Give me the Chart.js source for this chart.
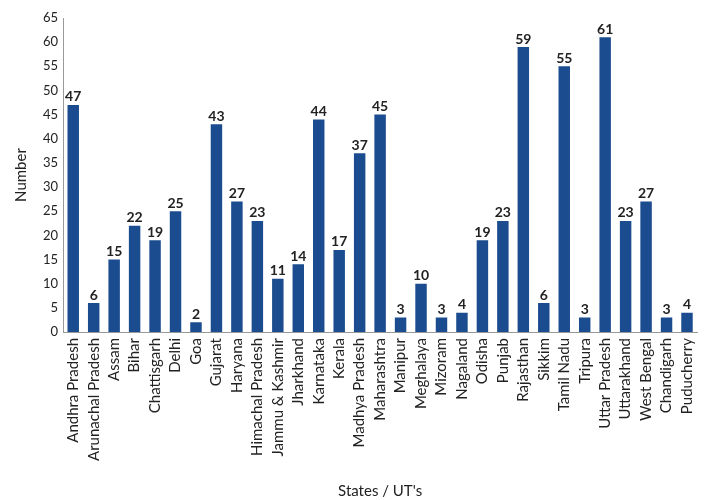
<!DOCTYPE html>
<html>
<head>
<meta charset="utf-8">
<script src="https://cdn.jsdelivr.net/npm/chart.js@4/dist/chart.umd.min.js"></script>
<style>
  html, body { margin: 0; padding: 0; background: #fff; }
  #wrap { width: 711px; height: 500px; }
</style>
</head>
<body>
<div id="wrap"><canvas id="states_chart" width="711" height="500"></canvas></div>
<script>

const states = [
    'Andhra Pradesh', 'Arunachal Pradesh', 'Assam', 'Bihar', 'Chattisgarh', 'Delhi',
    'Goa', 'Gujarat', 'Haryana', 'Himachal Pradesh', 'Jammu & Kashmir', 'Jharkhand',
    'Karnataka', 'Kerala', 'Madhya Pradesh', 'Maharashtra', 'Manipur', 'Meghalaya',
    'Mizoram', 'Nagaland', 'Odisha', 'Punjab', 'Rajasthan', 'Sikkim', 'Tamil Nadu',
    'Tripura', 'Uttar Pradesh', 'Uttarakhand', 'West Bengal', 'Chandigarh', 'Puducherry'
];

const counts = [
    47, 6, 15, 22, 19, 25,
    2, 43, 27, 23, 11, 14,
    44, 17, 37, 45, 3, 10,
    3, 4, 19, 23, 59, 6, 55,
    3, 61, 23, 27, 3, 4
];

const y_max = 65;
const y_step = 5;

const font_family = "Lato, 'Open Sans', sans-serif";

// writes each bar's value just above it
const value_labels = {
    id: 'value_labels',
    afterDatasetsDraw(chart) {
        const ctx = chart.ctx;
        const meta = chart.getDatasetMeta(0);
        ctx.save();
        ctx.fillStyle = '#222';
        ctx.font = 'bold 14px ' + font_family;
        ctx.textAlign = 'center';
        ctx.textBaseline = 'bottom';
        meta.data.forEach(function (bar, i) {
            ctx.fillText(String(counts[i]), bar.x, bar.y - 1);
        });
        ctx.restore();
    }
};

function init_states_chart() {

    var elem = document.getElementById('states_chart').getContext("2d");

    const data = {
        labels: states,
        datasets: [{
            label: 'Number',
            data: counts,
            backgroundColor: '#1b4c8f',
            borderWidth: 0,
            barPercentage: 0.56,
            categoryPercentage: 1.0
        }]
    };

    const config = {
        type: 'bar',
        data: data,
        plugins: [value_labels],
        options: {
            responsive: false,
            animation: false,
            layout: {
                padding: { top: 18, right: 0, left: 0, bottom: 0 }
            },
            plugins: {
                legend: { display: false },
                tooltip: { enabled: false }
            },
            scales: {
                x: {
                    grid: { display: false, drawTicks: false },
                    border: { color: '#999', width: 1 },
                    ticks: {
                        autoSkip: false,
                        minRotation: 90,
                        maxRotation: 90,
                        padding: 6,
                        color: '#222',
                        font: { family: font_family, size: 15 }
                    },
                    title: {
                        display: true,
                        text: "States / UT's",
                        color: '#222',
                        font: { family: font_family, size: 15 },
                        padding: { top: 0, bottom: 0 }
                    },
                    afterFit: function (scale) { scale.height = 168; }
                },
                y: {
                    min: 0,
                    max: y_max,
                    grid: { display: false, drawTicks: true, tickLength: 3, tickColor: '#999' },
                    border: { color: '#999', width: 1 },
                    ticks: {
                        stepSize: y_step,
                        padding: 2,
                        color: '#222',
                        font: { family: font_family, size: 13 }
                    },
                    title: {
                        display: true,
                        text: 'Number',
                        color: '#222',
                        font: { family: font_family, size: 15 },
                        padding: { top: 12, bottom: 0 }
                    },
                    afterFit: function (scale) { scale.width = 63; }
                }
            }
        }
    };

    return new Chart(elem, config);
}

init_states_chart();
</script>
</body>
</html>
